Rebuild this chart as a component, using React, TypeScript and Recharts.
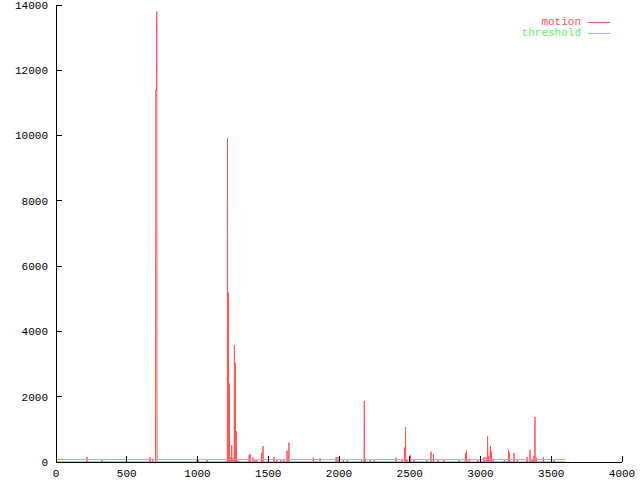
import { LineChart, Line, XAxis, YAxis } from 'recharts'

// frame numbers of the motion peaks, and their heights
const spikeFrames = [
  219, 325, 664, 683, 705, 708, 711, 712, 997, 1005, 1067,
  1212, 1218, 1225, 1232, 1242, 1250, 1261, 1267, 1274, 1286,
  1365, 1372, 1392, 1405, 1420, 1452, 1463, 1541, 1560, 1590,
  1610, 1633, 1646, 1818, 1866, 1980, 1993, 2030, 2060, 2160,
  2179, 2185, 2220, 2250, 2403, 2445, 2464, 2470, 2480, 2505,
  2530, 2620, 2650, 2667, 2700, 2740, 2850, 2894, 2901, 2920,
  2980, 3025, 3040, 3050, 3058, 3070, 3077, 3090, 3170, 3198,
  3205, 3237, 3260, 3329, 3350, 3365, 3378, 3385, 3395, 3444, 3520,
]
const spikeValues = [
  150, 70, 150, 100, 11400, 11400, 11400, 13800, 70, 60, 70,
  9930, 5190, 2400, 150, 520, 120, 3580, 3030, 950, 50,
  210, 250, 140, 60, 60, 280, 490, 150, 60, 60,
  70, 350, 590, 130, 120, 150, 150, 60, 60, 60,
  1870, 100, 70, 60, 130, 80, 440, 1070, 100, 215,
  60, 60, 315, 245, 60, 60, 60, 280, 370, 100,
  60, 150, 140, 800, 180, 490, 320, 100, 60, 370,
  280, 280, 60, 150, 370, 100, 190, 1380, 130, 150, 60,
]
const lastFrame = 3600
const threshold = 77

const xTicks = [0, 500, 1000, 1500, 2000, 2500, 3000, 3500, 4000]
const yTicks = [0, 2000, 4000, 6000, 8000, 10000, 12000, 14000]

const series = [
  { key: 'motion', name: 'motion', color: '#ff5555' },
  { key: 'threshold', name: 'threshold', color: '#5ef05e' },
]

// baseline between peaks is zero
function buildRows() {
  const rows = [{ frame: 0, motion: 0, threshold }]
  spikeFrames.forEach((f, i) => {
    const prev = i > 0 ? spikeFrames[i - 1] : -Infinity
    if (f - prev > 4) {
      if (i > 0) rows.push({ frame: prev + 2, motion: 0, threshold })
      rows.push({ frame: f - 2, motion: 0, threshold })
    }
    rows.push({ frame: f, motion: spikeValues[i], threshold })
  })
  rows.push({ frame: spikeFrames[spikeFrames.length - 1] + 2, motion: 0, threshold })
  rows.push({ frame: lastFrame, motion: 0, threshold })
  return rows
}

const rows = buildRows()
const font = '"Liberation Mono", "DejaVu Sans Mono", monospace'
const tickStyle = { fontSize: 11, fontFamily: font, fill: '#000' }

export default function App() {
  return (
    <div style={{ position: 'absolute', left: 0, top: 0, width: 640, height: 480, background: '#fff' }}>
      <style>{'.recharts-cartesian-axis line { shape-rendering: crispEdges; }'}</style>
      <LineChart width={640} height={480} data={rows} margin={{ top: 5, right: 18, bottom: 0, left: 0 }}>
        <XAxis
          xAxisId="b"
          dataKey="frame"
          type="number"
          domain={[0, 4000]}
          ticks={xTicks}
          interval={0}
          height={18}
          tickSize={-6}
          tickMargin={13}
          stroke="#000"
          tick={tickStyle}
        />
        <XAxis
          xAxisId="t"
          orientation="top"
          dataKey="frame"
          type="number"
          domain={[0, 4000]}
          ticks={xTicks}
          interval={0}
          height={0}
          tickSize={-6}
          stroke="#000"
          tick={false}
        />
        <YAxis
          yAxisId="l"
          type="number"
          domain={[0, 14000]}
          ticks={yTicks}
          interval={0}
          width={56}
          tickSize={-6}
          tickMargin={14}
          stroke="#000"
          tick={tickStyle}
        />
        <YAxis
          yAxisId="r"
          orientation="right"
          type="number"
          domain={[0, 14000]}
          ticks={yTicks}
          interval={0}
          width={0}
          tickSize={-6}
          stroke="#000"
          tick={false}
        />
        {series.map((s) => (
          <Line
            key={s.key}
            xAxisId="b"
            yAxisId="l"
            type="linear"
            dataKey={s.key}
            name={s.name}
            stroke={s.color}
            strokeWidth={1}
            dot={false}
            activeDot={false}
            isAnimationActive={false}
          />
        ))}
      </LineChart>
      <div style={{ position: 'absolute', top: 17, right: 30, fontFamily: font, fontSize: 11, lineHeight: '11px' }}>
        {series.map((s) => (
          <div key={s.key} style={{ display: 'flex', alignItems: 'center', justifyContent: 'flex-end' }}>
            <span style={{ color: s.color }}>{s.name}</span>
            <span style={{ display: 'inline-block', width: 22, height: 1, background: s.color, marginLeft: 7 }} />
          </div>
        ))}
      </div>
    </div>
  )
}
